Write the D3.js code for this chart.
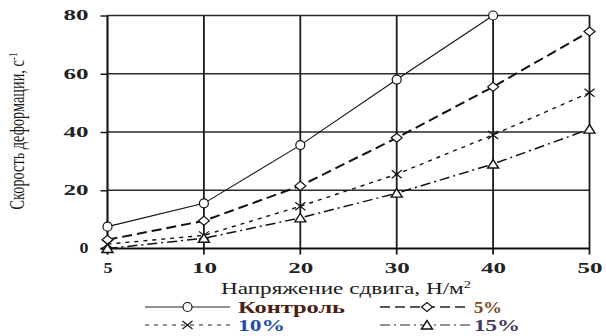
<!DOCTYPE html>
<html>
<head>
<meta charset="utf-8">
<script src="https://cdn.jsdelivr.net/npm/d3@7"></script>
<style>
html,body{margin:0;padding:0;background:#fff;}
svg{display:block;}
</style>
</head>
<body>
<svg id="chart" width="606" height="336"></svg>
<script>
const categories = ["5","10","20","30","40","50"];
const control = [7.5, 15.5, 35.5, 58, 80, null];
const pct5 = [3, 9.5, 21.5, 38, 55.5, 74.5];
const pct10 = [1.5, 4.5, 14.5, 25.5, 39, 53.5];
const pct15 = [0, 3.5, 10.5, 19, 29, 41];
const yTicks = [0, 20, 40, 60, 80];
const seriesNames = ["Контроль", "5%", "10%", "15%"];
const xTitle = "Напряжение сдвига, Н/м";
const yTitle = "Скорость деформации, с";

const FONT = "'Liberation Serif'";
const svg = d3.select("#chart");
const x = d3.scalePoint().domain(categories).range([107.5, 589.5]);
const y = d3.scaleLinear().domain([0, 80]).range([248.5, 15.5]);

// horizontal grid
svg.append("g").selectAll("line").data(yTicks.filter(d => d > 0)).join("line")
  .attr("x1", x(categories[0])).attr("x2", x(categories[categories.length-1]))
  .attr("y1", d => y(d)).attr("y2", d => y(d))
  .attr("stroke", "#2a2a2a").attr("stroke-width", 1.3);

// vertical grid (with tick extension below)
svg.append("g").selectAll("line").data(categories).join("line")
  .attr("x1", d => x(d)).attr("x2", d => x(d))
  .attr("y1", y(80)).attr("y2", y(0) + 6)
  .attr("stroke", "#1a1a1a").attr("stroke-width", d => d === "5" ? 2.2 : 1.8);

// y axis ticks + labels
const yAxis = d3.axisLeft(y).tickValues(yTicks).tickSize(7).tickPadding(12);
const gy = svg.append("g").attr("transform", `translate(${x(categories[0])},0)`).call(yAxis);
gy.attr("font-family", null);
gy.select(".domain").remove();
gy.selectAll(".tick line").attr("stroke", "#1a1a1a").attr("stroke-width", 1.5);
gy.selectAll(".tick text")
  .style("font-family", FONT).attr("font-size", 14).attr("font-weight", "bold")
  .attr("fill", "#222")
  .attr("textLength", d => String(d).length === 1 ? 9 : 25).attr("lengthAdjust", "spacingAndGlyphs");

// bottom axis line
svg.append("line")
  .attr("x1", x(categories[0]) - 7).attr("x2", x(categories[categories.length-1]))
  .attr("y1", y(0)).attr("y2", y(0))
  .attr("stroke", "#111").attr("stroke-width", 2);

// x tick labels
const xAxis = d3.axisBottom(x).tickSize(0).tickPadding(15);
const gx = svg.append("g").attr("transform", `translate(0,${y(0)})`).call(xAxis);
gx.attr("font-family", null);
gx.select(".domain").remove();
gx.selectAll(".tick text")
  .style("font-family", FONT).attr("font-size", 14).attr("font-weight", "bold")
  .attr("fill", "#222")
  .attr("textLength", d => d.length === 1 ? 9 : 25).attr("lengthAdjust", "spacingAndGlyphs");

// titles
const xt = svg.append("text").attr("x", 221).attr("y", 294)
  .style("font-family", FONT).attr("font-size", 16).attr("fill", "#1a1a1a")
  .attr("textLength", 250).attr("lengthAdjust", "spacingAndGlyphs");
xt.append("tspan").text(xTitle);
xt.append("tspan").attr("dy", -6).attr("font-size", 10).text("2");

const yt = svg.append("text")
  .attr("transform", "translate(24,131) scale(1.5,1) rotate(-90)")
  .style("font-family", FONT)
  .attr("text-anchor", "middle").attr("font-size", 14).attr("fill", "#1a1a1a")
  .attr("textLength", 157).attr("lengthAdjust", "spacingAndGlyphs");
yt.append("tspan").text(yTitle);
yt.append("tspan").attr("dy", -5).attr("font-size", 9).text("-1");

// series
const styles = [
  {vals: control, dash: null, width: 1.1, marker: "circle"},
  {vals: pct5, dash: "10,5", width: 2, marker: "diamond"},
  {vals: pct10, dash: "4,5", width: 1.4, marker: "cross"},
  {vals: pct15, dash: "10,4,2,4", width: 1.5, marker: "triangle"}
];

const line = d3.line().defined(d => d.v !== null).x(d => x(d.c)).y(d => y(d.v));

function drawMarker(g, type, cx, cy) {
  if (type === "circle") {
    g.append("circle").attr("cx", cx).attr("cy", cy).attr("r", 4.5)
      .attr("fill", "#fff").attr("stroke", "#111").attr("stroke-width", 1.2);
  } else if (type === "diamond") {
    g.append("path").attr("d", `M${cx-5.5},${cy}L${cx},${cy-4.5}L${cx+5.5},${cy}L${cx},${cy+4.5}Z`)
      .attr("fill", "#fff").attr("stroke", "#111").attr("stroke-width", 1.2);
  } else if (type === "cross") {
    g.append("path").attr("d", `M${cx-5},${cy-4}L${cx+5},${cy+4}M${cx-5},${cy+4}L${cx+5},${cy-4}`)
      .attr("fill", "none").attr("stroke", "#111").attr("stroke-width", 1.2);
  } else if (type === "triangle") {
    g.append("path").attr("d", `M${cx-5.5},${cy+4}L${cx},${cy-4.5}L${cx+5.5},${cy+4}Z`)
      .attr("fill", "#fff").attr("stroke", "#111").attr("stroke-width", 1.4);
  }
}

styles.forEach(s => {
  const data = categories.map((c, i) => ({c, v: s.vals[i]}));
  svg.append("path").datum(data).attr("d", line)
    .attr("fill", "none").attr("stroke", "#111").attr("stroke-width", s.width)
    .attr("stroke-dasharray", s.dash);
  const g = svg.append("g");
  data.filter(d => d.v !== null).forEach(d => drawMarker(g, s.marker, x(d.c), y(d.v)));
});

// legend
const legendItems = [
  {name: seriesNames[0], s: styles[0], x0: 145, x1: 230, tx: 238, ty: 307, tl: 107, color: "#4a2010"},
  {name: seriesNames[1], s: styles[1], x0: 380, x1: 470, tx: 474, ty: 307, tl: 28, color: "#7a4818"},
  {name: seriesNames[2], s: styles[2], x0: 145, x1: 230, tx: 238, ty: 325, tl: 47, color: "#2050a8"},
  {name: seriesNames[3], s: styles[3], x0: 380, x1: 470, tx: 474, ty: 325, tl: 46, color: "#4a3a58"}
];
legendItems.forEach(it => {
  svg.append("line").attr("x1", it.x0).attr("x2", it.x1).attr("y1", it.ty).attr("y2", it.ty)
    .attr("stroke", "#222").attr("stroke-width", it.s.width > 1.5 ? 1.5 : 1.2)
    .attr("stroke-dasharray", it.s.dash);
  const g = svg.append("g");
  drawMarker(g, it.s.marker, (it.x0 + it.x1) / 2 + (it.x0 > 300 ? 2 : 0), it.ty);
  svg.append("text").attr("x", it.tx).attr("y", it.ty + 6)
    .style("font-family", FONT).attr("font-size", 16)
    .attr("font-weight", "bold").attr("fill", it.color)
    .attr("textLength", it.tl).attr("lengthAdjust", "spacingAndGlyphs").text(it.name);
});
</script>
</body>
</html>
